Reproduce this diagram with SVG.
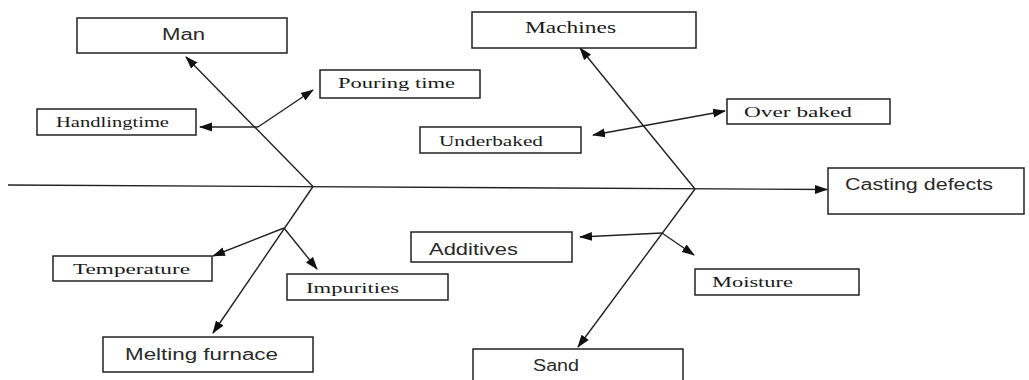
<svg xmlns="http://www.w3.org/2000/svg" width="1029" height="380" viewBox="0 0 1029 380">
<style>
.box{fill:#fff;stroke:#222;stroke-width:1.5}
.sans{font-family:"Liberation Sans","Open Sans",Arial,sans-serif;font-size:16px;fill:#2a2a2a}
.serif{font-family:"Liberation Serif","Times New Roman",serif;font-size:15px;fill:#1a1a1a}
.ln{stroke:#222;stroke-width:1.4;fill:none}
.arr{marker-end:url(#ah)}
.dbl{marker-start:url(#ah);marker-end:url(#ah)}
</style>
<defs>
<marker id="ah" markerUnits="userSpaceOnUse" markerWidth="13" markerHeight="10" refX="12" refY="4.5" orient="auto-start-reverse" viewBox="0 0 13 9">
<path d="M0,0 L13,4.5 L0,9 z" fill="#111"/>
</marker>
</defs>
<rect width="1029" height="380" fill="#fff"/>
<g id="connectors">
<line class="ln arr" x1="8" y1="185" x2="827" y2="189.5"/>
<line class="ln arr" x1="313" y1="186.5" x2="186" y2="57"/>
<line class="ln arr" x1="258" y1="127" x2="200" y2="127"/>
<line class="ln arr" x1="258" y1="127" x2="313" y2="90"/>
<line class="ln arr" x1="695" y1="189" x2="580" y2="48"/>
<line class="ln dbl" x1="593" y1="135" x2="725" y2="111"/>
<line class="ln arr" x1="313" y1="186.5" x2="213" y2="333"/>
<line class="ln arr" x1="284" y1="228" x2="213" y2="256"/>
<line class="ln arr" x1="284" y1="228" x2="317" y2="269"/>
<line class="ln arr" x1="695" y1="189" x2="578" y2="347"/>
<line class="ln arr" x1="662" y1="233" x2="580" y2="237"/>
<line class="ln arr" x1="662" y1="233" x2="694" y2="255"/>
</g>
<g id="man">
<rect class="box" x="77" y="18" width="210" height="35"/>
<text class="sans" x="162" y="40" textLength="43" lengthAdjust="spacingAndGlyphs">Man</text>
</g>
<g id="machines">
<rect class="box" x="472" y="12" width="224" height="36"/>
<text class="serif" style="font-size:16px" x="525" y="33" textLength="91" lengthAdjust="spacingAndGlyphs">Machines</text>
</g>
<g id="pouring-time">
<rect class="box" x="320" y="70" width="160" height="28"/>
<text class="serif" x="338" y="88" textLength="117" lengthAdjust="spacingAndGlyphs">Pouring time</text>
</g>
<g id="handling-time">
<rect class="box" x="37" y="109" width="159" height="26"/>
<text class="serif" style="font-size:14px" x="56" y="127" textLength="113" lengthAdjust="spacingAndGlyphs">Handlingtime</text>
</g>
<g id="under-baked">
<rect class="box" x="420" y="127" width="161" height="26"/>
<text class="serif" style="font-size:14px" x="439" y="146" textLength="104" lengthAdjust="spacingAndGlyphs">Underbaked</text>
</g>
<g id="over-baked">
<rect class="box" x="727" y="99" width="163" height="25"/>
<text class="serif" x="744" y="117" textLength="108" lengthAdjust="spacingAndGlyphs">Over baked</text>
</g>
<g id="casting-defects">
<rect class="box" x="828" y="168" width="196" height="46"/>
<text class="sans" x="845" y="190" textLength="148" lengthAdjust="spacingAndGlyphs">Casting defects</text>
</g>
<g id="temperature">
<rect class="box" x="53" y="256" width="159" height="25"/>
<text class="serif" x="73" y="274" textLength="117" lengthAdjust="spacingAndGlyphs">Temperature</text>
</g>
<g id="impurities">
<rect class="box" x="287" y="274" width="161" height="26"/>
<text class="serif" x="306" y="293" textLength="93" lengthAdjust="spacingAndGlyphs">Impurities</text>
</g>
<g id="melting-furnace">
<rect class="box" x="103" y="337" width="210" height="35"/>
<text class="sans" x="125" y="360" textLength="153" lengthAdjust="spacingAndGlyphs">Melting furnace</text>
</g>
<g id="additives">
<rect class="box" x="411" y="232" width="161" height="30"/>
<text class="sans" x="429" y="255" textLength="89" lengthAdjust="spacingAndGlyphs">Additives</text>
</g>
<g id="moisture">
<rect class="box" x="695" y="269" width="164" height="26"/>
<text class="serif" x="712" y="287" textLength="81" lengthAdjust="spacingAndGlyphs">Moisture</text>
</g>
<g id="sand">
<rect class="box" x="473" y="349" width="210" height="40"/>
<text class="sans" x="533" y="371" textLength="46" lengthAdjust="spacingAndGlyphs">Sand</text>
</g>
</svg>
